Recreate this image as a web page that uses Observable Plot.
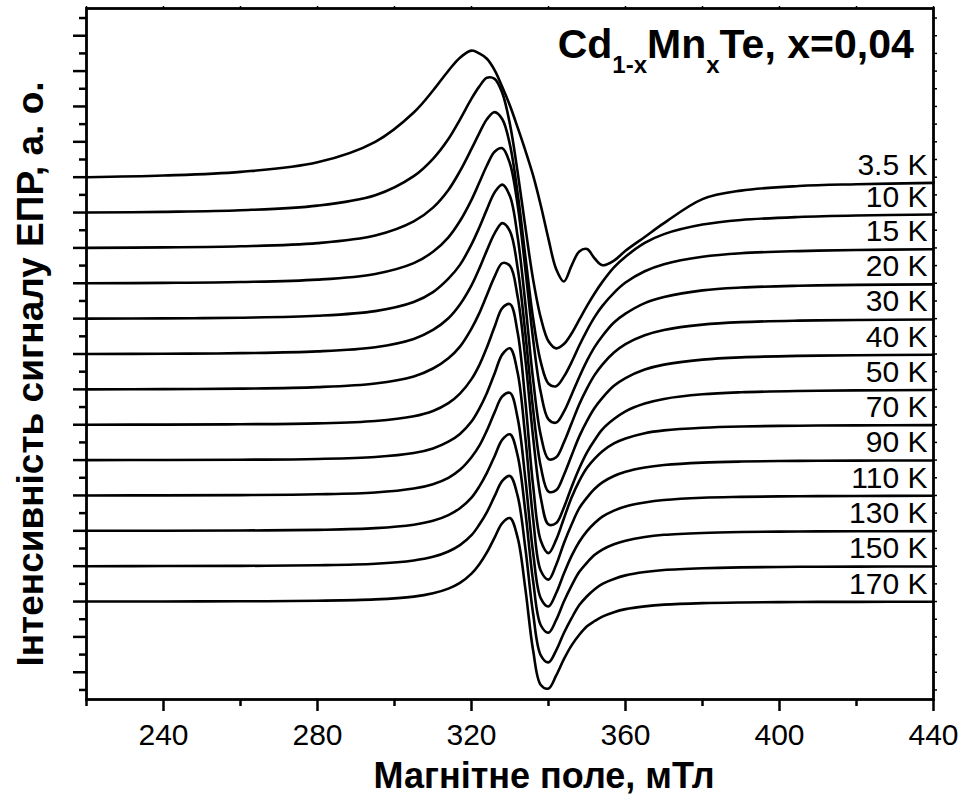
<!DOCTYPE html>
<html><head><meta charset="utf-8">
<script src="https://cdn.jsdelivr.net/npm/d3@7"></script>
<script src="https://cdn.jsdelivr.net/npm/@observablehq/plot@0.6"></script>
<style>body{margin:0;background:#fff;}</style>
</head><body><div id="chart"></div>
<script>
// Magnetic field grid, mT
const field = [220, 240, 260, 280, 295, 305, 310, 314, 317, 320, 322, 324, 326, 328, 330, 332, 334, 336, 338, 340, 342, 344, 346, 348, 350, 352, 354, 357, 360, 365, 370, 380, 390, 405, 420, 440];

// EPR derivative signals (a.u., one baseline step = 10)
const s35  = [0, 0.46, 1.5, 4.2, 10.0, 18.3, 24.5, 30.1, 33.8, 35.8, 35.0, 33.5, 30.3, 25.5, 20.2, 14.0, 7.5, 0.5, -8.0, -17.5, -26.0, -29.5, -25.0, -21.0, -20.3, -23.0, -24.9, -23.6, -20.8, -16.9, -13.0, -6.2, -3.8, -2.5, -2.0, -1.6];
const s10  = [0, 0.20, 0.65, 1.95, 4.9, 10.3, 15.2, 20.8, 26.3, 32.2, 35.6, 38.1, 37.8, 33.8, 24.9, 11.3, -4.2, -18.9, -29.8, -36.4, -38.4, -37.2, -34.2, -30.3, -26.4, -22.8, -19.6, -15.5, -12.5, -8.6, -6.1, -3.4, -2.1, -1.25, -0.83, -0.57];
const s15  = [0, 0.14, 0.45, 1.36, 3.5, 7.5, 11.4, 16.4, 21.7, 28.0, 32.4, 36.4, 38.4, 36.4, 29.1, 15.3, -2.5, -19.9, -32.3, -38.4, -39.1, -36.4, -32.3, -27.6, -23.3, -19.5, -16.4, -12.7, -9.8, -6.6, -4.6, -2.5, -1.5, -0.9, -0.6, -0.39];
const s20  = [0, 0.10, 0.34, 1.02, 2.64, 5.7, 8.9, 13.0, 17.6, 23.6, 28.4, 33.3, 37.2, 38.2, 33.8, 22.0, 3.9, -15.8, -30.9, -38.5, -39.4, -36.3, -31.5, -26.5, -21.9, -18.0, -14.9, -11.1, -8.6, -5.6, -3.9, -2.0, -1.2, -0.7, -0.45, -0.3];
const s30  = [0, 0.08, 0.27, 0.81, 2.13, 4.7, 7.5, 11.3, 15.2, 21.0, 25.7, 30.9, 35.7, 37.9, 34.6, 23.0, 4.1, -17.2, -33.0, -39.7, -39.2, -35.0, -29.6, -24.2, -19.7, -15.9, -13.0, -9.6, -7.2, -4.7, -3.2, -1.7, -1.0, -0.57, -0.37, -0.24];
const s40  = [0, 0.07, 0.24, 0.73, 1.93, 4.27, 6.8, 10.1, 14.0, 19.4, 24.1, 29.3, 34.1, 37.0, 34.7, 24.2, 5.7, -15.6, -31.9, -38.9, -38.5, -34.2, -28.7, -23.3, -18.9, -15.2, -12.4, -9.0, -6.8, -4.4, -3.0, -1.6, -0.95, -0.53, -0.34, -0.23];
const s50  = [0, 0.06, 0.21, 0.63, 1.66, 3.67, 5.9, 8.8, 12.1, 17.2, 21.5, 26.7, 31.9, 35.7, 34.9, 26.1, 8.4, -13.5, -30.7, -38.2, -37.8, -33.4, -27.6, -22.3, -17.8, -14.3, -11.3, -8.4, -6.2, -4.0, -2.7, -1.4, -0.83, -0.46, -0.29, -0.2];
const s70  = [0, 0.04, 0.13, 0.39, 1.06, 2.41, 3.9, 6.1, 8.8, 12.9, 16.8, 21.9, 27.7, 33.0, 34.1, 26.0, 6.5, -17.2, -32.8, -36.3, -32.5, -26.5, -20.6, -15.9, -12.2, -9.6, -7.5, -5.3, -3.9, -2.4, -1.6, -0.85, -0.49, -0.27, -0.18, -0.11];
const s90  = [0, 0.03, 0.10, 0.32, 0.87, 2.0, 3.3, 5.2, 7.4, 10.9, 14.5, 19.0, 24.5, 29.9, 31.6, 24.6, 6.2, -16.6, -31.3, -33.8, -29.6, -23.5, -18.2, -13.6, -10.6, -8.1, -6.3, -4.5, -3.3, -2.1, -1.4, -0.71, -0.41, -0.23, -0.15, -0.1];
const s110 = [0, 0.03, 0.10, 0.32, 0.84, 1.96, 3.2, 5.0, 7.25, 10.8, 14.0, 18.4, 23.5, 28.0, 29.0, 21.8, 4.6, -16.2, -29.1, -31.4, -27.6, -22.1, -17.1, -13.1, -10.1, -7.8, -6.0, -4.3, -3.1, -2.0, -1.3, -0.65, -0.41, -0.22, -0.15, -0.1];
const s130 = [0, 0.03, 0.09, 0.28, 0.75, 1.73, 2.83, 4.45, 6.4, 9.4, 12.5, 16.4, 21.1, 25.8, 27.3, 21.2, 5.3, -14.2, -26.7, -28.8, -25.2, -20.0, -15.5, -11.6, -9.0, -6.8, -5.3, -3.8, -2.8, -1.74, -1.13, -0.6, -0.35, -0.19, -0.13, -0.08];
const s150 = [0, 0.03, 0.08, 0.26, 0.70, 1.61, 2.64, 4.16, 5.95, 8.75, 11.7, 15.3, 19.8, 24.1, 25.5, 19.8, 5.0, -13.4, -25.2, -27.2, -23.8, -18.9, -14.7, -11.0, -8.5, -6.5, -5.0, -3.6, -2.6, -1.64, -1.07, -0.57, -0.33, -0.18, -0.12, -0.08];
const s170 = [0, 0.02, 0.07, 0.22, 0.6, 1.39, 2.34, 3.66, 5.28, 7.9, 10.5, 13.9, 18.1, 22.2, 23.6, 18.0, 3.5, -13.8, -23.6, -24.6, -20.9, -16.3, -12.4, -9.4, -7.0, -5.5, -4.25, -3.0, -2.15, -1.37, -0.88, -0.44, -0.25, -0.13, -0.08, -0.05];

const temps   = ["3.5 K", "10 K", "15 K", "20 K", "30 K", "40 K", "50 K", "70 K", "90 K", "110 K", "130 K", "150 K", "170 K"];
const offsets = [120, 110, 100, 90, 80, 70, 60, 50, 40, 30, 20, 10, 0];
const series  = [s35, s10, s15, s20, s30, s40, s50, s70, s90, s110, s130, s150, s170];

const xMajor = [240, 280, 320, 360, 400, 440];
const xMinor = [220, 260, 300, 340, 380, 420];
const yMajor = [-20, -10, 0, 10, 20, 30, 40, 50, 60, 70, 80, 90, 100, 110, 120, 130, 140, 150, 160];
const yMinor = [-25, -15, -5, 5, 15, 25, 35, 45, 55, 65, 75, 85, 95, 105, 115, 125, 135, 145, 155, 165];

const xTitle = "Магнітне поле, мТл";
const yTitle = "Інтенсивність сигналу ЕПР, а. о.";

const rows = temps.flatMap((T, i) => field.map((B, j) => ({T, B, I: series[i][j] + offsets[i]})));
const ends = temps.map((T, i) => ({T, B: field[field.length - 1], I: series[i][series[i].length - 1] + offsets[i]}));

const noText = () => "";
const plot = Plot.plot({
  width: 966, height: 796,
  marginLeft: 86, marginRight: 33, marginTop: 8, marginBottom: 97,
  style: {fontFamily: "'Liberation Sans', Arial, sans-serif", background: "#fff", color: "#000"},
  x: {domain: [220, 440], label: null},
  y: {domain: [-27.7, 167.7], label: null},
  marks: [
    Plot.axisX(xMajor, {tickSize: 12, tickPadding: 12, fontSize: 30, strokeWidth: 2.5, label: null}),
    Plot.axisX(xMinor, {tickSize: 7, tickFormat: noText, strokeWidth: 2.5, label: null}),
    Plot.axisX(xMajor.concat(xMinor), {anchor: "top", tickSize: 3, tickFormat: noText, strokeWidth: 1.5, label: null}),
    Plot.axisY(yMajor, {tickSize: 13, tickFormat: noText, strokeWidth: 2.5, label: null}),
    Plot.axisY(yMinor, {tickSize: 7, tickFormat: noText, strokeWidth: 2.5, label: null}),
    Plot.axisY(yMajor.concat(yMinor), {anchor: "right", tickSize: 3, tickFormat: noText, strokeWidth: 1.5, label: null}),
    Plot.line(rows, {x: "B", y: "I", z: "T", curve: "catmull-rom", stroke: "#000", strokeWidth: 2.6}),
    Plot.text(ends, {x: "B", y: "I", text: "T", textAnchor: "end", lineAnchor: "bottom", dx: -6, dy: -8, fontSize: 30, fill: "#000"}),
    Plot.text([xTitle], {frameAnchor: "bottom", textAnchor: "middle", lineAnchor: "bottom", dx: 34, dy: 88, fontSize: 36, fontWeight: "bold", fill: "#000"}),
    Plot.text([yTitle], {frameAnchor: "left", textAnchor: "middle", rotate: -90, lineAnchor: "bottom", dx: -44, dy: 20, fontSize: 37, fontWeight: "bold", fill: "#000"}),
    Plot.frame({stroke: "#000", strokeWidth: 2.8})
  ]
});

document.getElementById("chart").appendChild(plot);

// Compound title with subscripts, placed through the plot scales
const sx = plot.scale("x"), sy = plot.scale("y");
const t = d3.select(plot).append("text")
  .attr("x", sx.apply(435)).attr("y", sy.apply(153.6))
  .attr("text-anchor", "end").attr("font-weight", "bold").attr("font-size", 41)
  .attr("font-family", "'Liberation Sans', Arial, sans-serif").attr("fill", "#000");
t.append("tspan").text("Cd");
t.append("tspan").attr("font-size", 24).attr("dy", 15).text("1-x");
t.append("tspan").attr("dy", -15).text("Mn");
t.append("tspan").attr("font-size", 24).attr("dy", 15).text("x");
t.append("tspan").attr("dy", -15).text("Te, x=0,04");
</script>
</body></html>
